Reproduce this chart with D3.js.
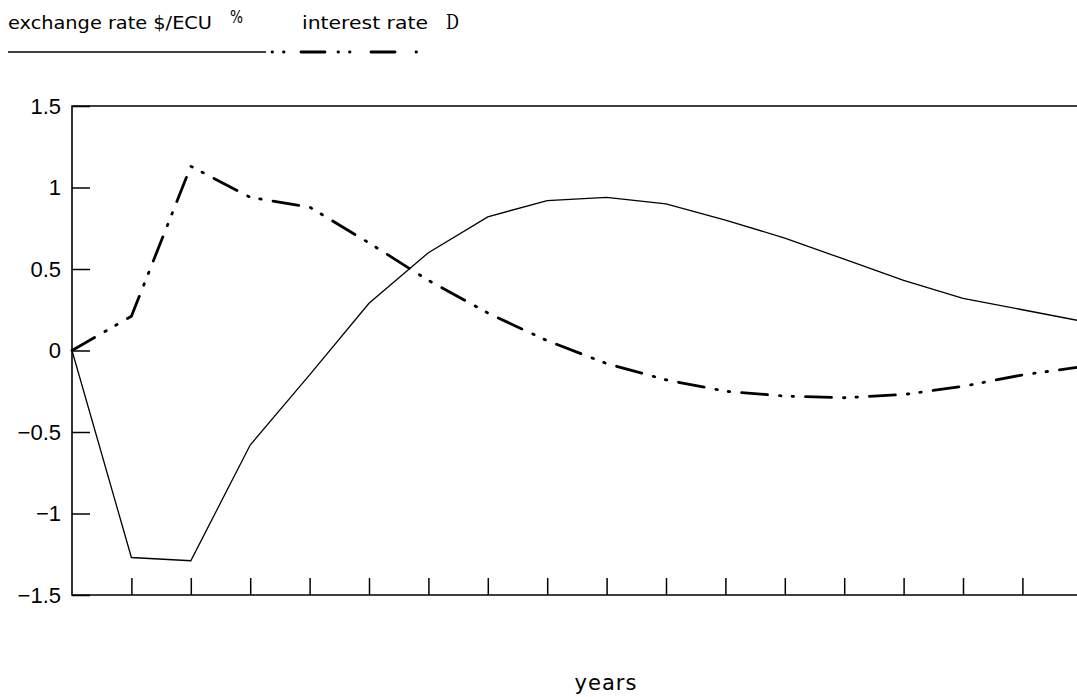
<!DOCTYPE html>
<html>
<head>
<meta charset="utf-8">
<script src="https://cdn.jsdelivr.net/npm/d3@7"></script>
<style>
  body { margin: 0; background: #fff; }
  svg { display: block; }
  text { fill: #000; }
</style>
</head>
<body>
<svg id="chart" width="1077" height="697"></svg>
<script>

// data, one point per year
const years = d3.range(0, 18);
const exchangeRate = [0, -1.27, -1.29, -0.58, -0.15, 0.29, 0.60, 0.82, 0.92, 0.94,
  0.90, 0.80, 0.69, 0.56, 0.43, 0.32, 0.25, 0.18];
const interestRate = [0, 0.21, 1.13, 0.94, 0.88, 0.66, 0.43, 0.23, 0.06, -0.08,
  -0.18, -0.25, -0.28, -0.29, -0.27, -0.22, -0.15, -0.10];
const yTicks = [-1.5, -1, -0.5, 0, 0.5, 1, 1.5];
const xTicks = d3.range(1, 17);

const svg = d3.select('#chart');

const plotLeft = 72, plotTop = 106, plotBottom = 595, step = 59.4;

const scaleX = d3.scaleLinear()
  .domain([0, 17])
  .range([plotLeft, plotLeft + 17 * step]);

const scaleY = d3.scaleLinear()
  .domain([-1.5, 1.5])
  .range([plotBottom, plotTop]);

const dashDot = '26,12,1.5,11,1.5,12';

// frame: left, top, bottom
svg.append('path')
  .attr('d', 'M1077,' + plotTop + 'H' + plotLeft + 'V' + plotBottom + 'H1077')
  .attr('fill', 'none')
  .attr('stroke', '#000')
  .attr('stroke-width', 1.6);

// y ticks point inwards
svg.append('g')
  .attr('transform', 'translate(' + plotLeft + ',0)')
  .call(d3.axisRight(scaleY)
    .tickValues(yTicks)
    .tickSize(18)
    .tickFormat(''))
  .call(g => g.select('.domain').remove())
  .selectAll('line')
  .attr('stroke-width', 1.5);

svg.selectAll('.ylabel')
  .data(yTicks)
  .enter()
  .append('text')
  .attr('class', 'ylabel')
  .attr('x', plotLeft - 11)
  .attr('y', d => scaleY(d))
  .attr('dy', '0.36em')
  .attr('text-anchor', 'end')
  .style('font-family', '"Liberation Sans", Arial, sans-serif')
  .style('font-size', '22px')
  .text(d => d3.format('')(d).replace('-', '\u2212'));

// x ticks point up
svg.append('g')
  .attr('transform', 'translate(0,' + plotBottom + ')')
  .call(d3.axisTop(scaleX)
    .tickValues(xTicks)
    .tickSize(17)
    .tickFormat(''))
  .call(g => g.select('.domain').remove())
  .selectAll('line')
  .attr('stroke-width', 1.5);

// series
const line = d3.line()
  .x((d, i) => scaleX(years[i]))
  .y(d => scaleY(d));

svg.append('path')
  .datum(exchangeRate)
  .attr('d', line)
  .attr('fill', 'none')
  .attr('stroke', '#000')
  .attr('stroke-width', 1.3);

svg.append('path')
  .datum(interestRate)
  .attr('d', line)
  .attr('fill', 'none')
  .attr('stroke', '#000')
  .attr('stroke-width', 2.8)
  .attr('stroke-linecap', 'round')
  .attr('stroke-dasharray', dashDot);

// legend
const legendFont = '"DejaVu Sans", sans-serif';

svg.append('text')
  .attr('x', 8)
  .attr('y', 29)
  .style('font-family', legendFont)
  .style('font-size', '18px')
  .attr('textLength', 204)
  .attr('lengthAdjust', 'spacingAndGlyphs')
  .text('exchange rate $/ECU');

svg.append('text')
  .attr('x', 230)
  .attr('y', 23)
  .style('font-family', legendFont)
  .style('font-size', '17px')
  .attr('textLength', 13)
  .attr('lengthAdjust', 'spacingAndGlyphs')
  .text('%');

svg.append('text')
  .attr('x', 302)
  .attr('y', 29)
  .style('font-family', legendFont)
  .style('font-size', '18px')
  .attr('textLength', 126)
  .attr('lengthAdjust', 'spacingAndGlyphs')
  .text('interest rate');

svg.append('text')
  .attr('x', 446)
  .attr('y', 29)
  .style('font-family', '"DejaVu Serif", serif')
  .style('font-size', '21px')
  .attr('textLength', 13)
  .attr('lengthAdjust', 'spacingAndGlyphs')
  .text('D');

svg.append('line')
  .attr('x1', 8).attr('x2', 266)
  .attr('y1', 52).attr('y2', 52)
  .attr('stroke', '#000')
  .attr('stroke-width', 1.4);

svg.append('line')
  .attr('x1', 272).attr('x2', 422)
  .attr('y1', 52).attr('y2', 52)
  .attr('stroke', '#000')
  .attr('stroke-width', 2.8)
  .attr('stroke-linecap', 'round')
  .attr('stroke-dasharray', '0.5,11,0.5,17,24,13,0.5,11,0.5,21,24,21,0.5,20');

// axis title
svg.append('text')
  .attr('x', 606)
  .attr('y', 690)
  .attr('text-anchor', 'middle')
  .style('font-family', legendFont)
  .style('font-size', '21px')
  .style('letter-spacing', '1px')
  .text('years');

</script>
</body>
</html>
